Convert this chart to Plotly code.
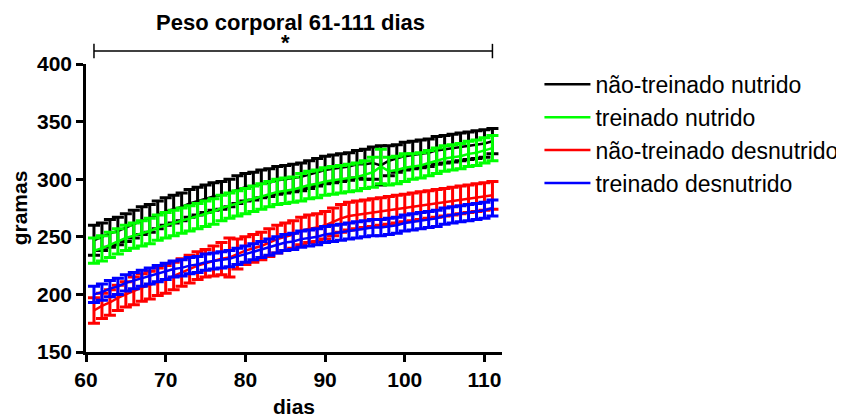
import plotly.graph_objects as go

# days 61..111
dias = list(range(61, 112))

nt_nutrido = [247, 250, 253, 255, 258, 261, 264, 266, 269, 272,
              274, 276, 279, 281, 283, 285, 286, 288, 291, 293,
              294, 296, 297, 299, 300, 301, 302, 304, 306, 308,
              309, 310, 311, 313, 313, 314, 312, 316, 318, 320,
              321, 322, 323, 325, 326, 327, 328, 329, 330, 331, 333]
nt_nutrido_err = [13, 12, 12, 12, 12, 12, 12, 12, 12, 12,
                  12, 12, 12, 12, 12, 12, 12, 12, 12, 12,
                  12, 12, 12, 12, 12, 12, 12, 12, 12, 12,
                  12, 12, 12, 12, 13, 14, 17, 13, 12, 12,
                  12, 12, 12, 12, 12, 12, 12, 12, 12, 12, 11]

t_nutrido = [238, 240, 243, 246, 249, 251, 253, 255, 258, 260,
             262, 264, 266, 268, 270, 272, 275, 277, 279, 281,
             283, 285, 287, 289, 290, 291, 293, 295, 296, 298,
             299, 300, 301, 302, 304, 306, 311, 307, 308, 310,
             311, 312, 314, 316, 318, 319, 320, 322, 323, 325, 327]
t_nutrido_err = [11, 11, 11, 11, 11, 11, 11, 11, 11, 11,
                 11, 11, 11, 11, 11, 11, 11, 11, 11, 11,
                 11, 11, 11, 11, 11, 11, 12, 12, 12, 12,
                 12, 12, 12, 12, 12, 13, 15, 12, 12, 12,
                 11, 11, 11, 11, 11, 11, 11, 11, 11, 11, 11]

nt_desnutrido = [186, 190, 193, 197, 200, 203, 206, 208, 211, 213,
                 216, 219, 222, 225, 227, 229, 231, 232, 235, 238,
                 240, 242, 245, 248, 250, 252, 255, 257, 258, 260,
                 263, 266, 268, 269, 270, 271, 272, 273, 274, 275,
                 276, 277, 278, 279, 280, 281, 282, 283, 284, 285, 286]
nt_desnutrido_err = [11, 11, 11, 11, 11, 12, 12, 12, 12, 12,
                     12, 12, 12, 12, 12, 13, 14, 17, 13, 12,
                     12, 12, 12, 12, 12, 12, 12, 12, 12, 12,
                     12, 12, 12, 12, 12, 12, 12, 12, 12, 12,
                     12, 12, 12, 12, 12, 12, 12, 12, 12, 12, 12]

t_desnutrido = [200, 202, 205, 207, 210, 212, 214, 216, 218, 220,
                222, 223, 225, 226, 228, 229, 230, 231, 233, 235,
                237, 239, 241, 243, 245, 246, 248, 249, 250, 252,
                253, 254, 255, 256, 257, 258, 258, 259, 260, 262,
                263, 264, 265, 266, 268, 269, 270, 271, 272, 273, 275]
t_desnutrido_err = [7] * 51

series = [
    ("não-treinado nutrido", nt_nutrido, nt_nutrido_err, "#000000"),
    ("treinado nutrido", t_nutrido, t_nutrido_err, "#00ff00"),
    ("não-treinado desnutrido", nt_desnutrido, nt_desnutrido_err, "#ff0000"),
    ("treinado desnutrido", t_desnutrido, t_desnutrido_err, "#0000ff"),
]

x_range = [60, 112.2]
y_range = [150, 400]
x_ticks = [60, 70, 80, 90, 100, 110]
y_ticks = [150, 200, 250, 300, 350, 400]
bracket = [61, 111]

fig = go.Figure()
for i, (name, y, err, col) in enumerate(series):
    fig.add_trace(go.Scatter(
        x=dias, y=y, name=name, mode="lines",
        line={"color": col, "width": 2.5},
        legendgroup=str(i),
        error_y={"type": "data", "array": err, "visible": True,
                 "color": col, "thickness": 3, "width": 6},
    ))

font = "Liberation Sans, Arial, sans-serif"

def to_paper(v):
    return (v - x_range[0]) / (x_range[1] - x_range[0])

# significance bracket above the plot
yb = 1.045
fig.add_shape(type="line", xref="paper", yref="paper",
              x0=to_paper(bracket[0]), x1=to_paper(bracket[1]), y0=yb, y1=yb,
              line={"color": "black", "width": 1.5})
for b in bracket:
    fig.add_shape(type="line", xref="paper", yref="paper",
                  x0=to_paper(b), x1=to_paper(b), y0=yb - 0.025, y1=yb + 0.025,
                  line={"color": "black", "width": 1.5})
fig.add_annotation(text="<b>*</b>", xref="paper", yref="paper",
                   x=to_paper(85), y=yb - 0.02, showarrow=False,
                   yanchor="bottom", font={"size": 22, "family": font, "color": "black"})

# page has an 8px body margin, so the figure is sized to the remaining area
fig.update_layout(
    width=836, height=411,
    margin={"l": 78, "r": 342, "t": 56, "b": 67, "autoexpand": False},
    plot_bgcolor="white", paper_bgcolor="white",
    title={"text": "<b>Peso corporal 61-111 dias</b>", "x": 0.338, "xanchor": "center",
           "y": 0.966, "yanchor": "middle",
           "font": {"size": 22, "family": font, "color": "black"}},
    showlegend=True,
    legend={"x": 1.09, "y": 1.004, "xanchor": "left", "yanchor": "top",
            "font": {"size": 23, "family": font, "color": "black"},
            "tracegroupgap": 0, "itemwidth": 46, "bgcolor": "rgba(0,0,0,0)"},
    xaxis={"range": x_range, "tickvals": x_ticks, "showgrid": False, "zeroline": False,
           "showline": True, "linecolor": "black", "linewidth": 2.5, "automargin": False,
           "ticks": "outside", "ticklen": 7, "tickwidth": 2.5, "tickcolor": "black",
           "tickfont": {"size": 21, "family": font, "color": "black", "weight": "bold"},
           "title": {"text": "<b>dias</b>", "standoff": 10,
                     "font": {"size": 21, "family": font, "color": "black"}}},
    yaxis={"range": y_range, "tickvals": y_ticks, "showgrid": False, "zeroline": False,
           "showline": True, "linecolor": "black", "linewidth": 2.5, "automargin": False,
           "ticks": "outside", "ticklen": 7, "tickwidth": 2.5, "tickcolor": "black",
           "tickfont": {"size": 21, "family": font, "color": "black", "weight": "bold"},
           "title": {"text": "<b>gramas</b>", "standoff": 17,
                     "font": {"size": 21, "family": font, "color": "black"}}},
)

fig.write_html("out.html")
